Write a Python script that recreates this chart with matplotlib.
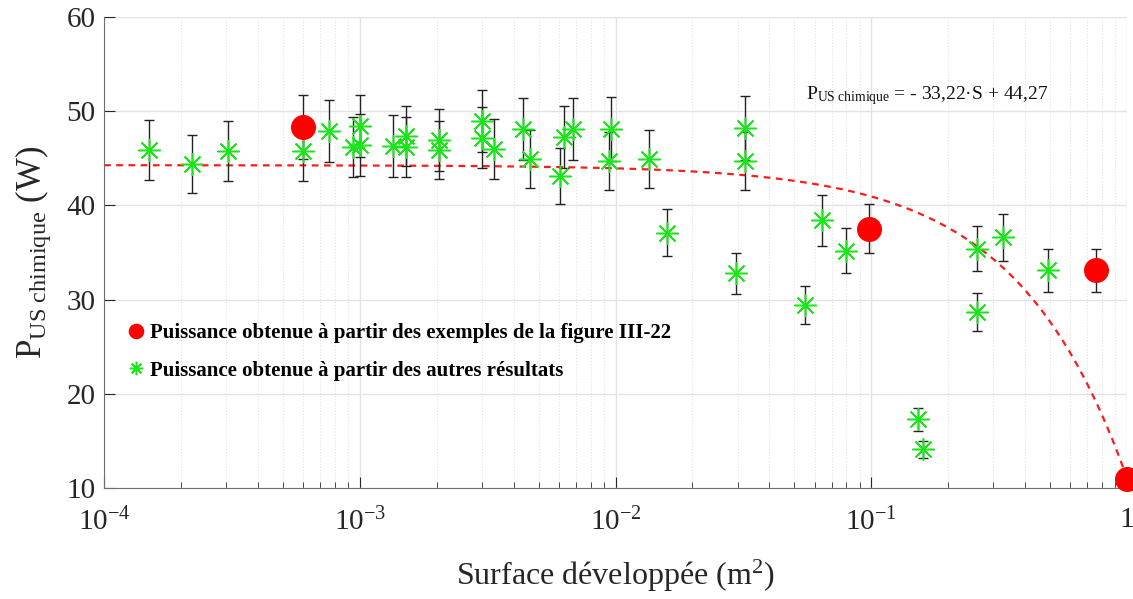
import matplotlib.pyplot as plt
import numpy as np

plt.rcParams["font.family"] = ["Liberation Serif", "DejaVu Serif"]
plt.rcParams["mathtext.fontset"] = "custom"
plt.rcParams["mathtext.rm"] = "Liberation Serif"
plt.rcParams["mathtext.it"] = "Liberation Serif:italic"
plt.rcParams["mathtext.bf"] = "Liberation Serif:bold"

# %% data
# points from the figure III-22 examples (red)
ex_surface = [6.0e-4, 9.8e-2, 0.757, 1.0]
ex_power = [48.3, 37.5, 33.1, 11.0]
ex_err = [3.4, 2.6, 2.3, 0.0]

# other results (green)
oth_surface = [1.5e-4, 2.2e-4, 3.05e-4, 6.0e-4, 7.6e-4, 9.4e-4, 1.0e-3, 1.0e-3,
               1.35e-3, 1.52e-3, 1.52e-3, 2.04e-3, 2.04e-3, 3.0e-3, 3.0e-3,
               3.35e-3, 4.35e-3, 4.65e-3, 6.05e-3, 6.3e-3, 6.8e-3, 9.6e-3,
               9.4e-3, 1.35e-2, 1.59e-2, 2.96e-2, 3.2e-2, 3.2e-2, 5.5e-2,
               6.4e-2, 8.0e-2, 0.152, 0.159, 0.26, 0.26, 0.327, 0.49]
oth_power = [45.9, 44.4, 45.8, 45.8, 47.9, 46.2, 48.4, 46.4,
             46.3, 47.4, 46.2, 46.9, 45.9, 49.0, 47.2,
             46.0, 48.1, 44.9, 43.1, 47.3, 48.1, 48.1,
             44.7, 44.9, 37.1, 32.8, 48.2, 44.7, 29.4,
             38.4, 35.2, 17.3, 14.1, 35.4, 28.7, 36.6, 33.1]
oth_err = [3.2, 3.1, 3.2, 3.2, 3.3, 3.2, 3.3, 3.3,
           3.3, 3.2, 3.2, 3.3, 3.1, 3.3, 3.2,
           3.2, 3.3, 3.1, 3.0, 3.3, 3.3, 3.4,
           3.1, 3.1, 2.5, 2.2, 3.4, 3.1, 2.0,
           2.7, 2.4, 1.2, 0.9, 2.4, 2.0, 2.5, 2.3]

# linear fit given on the chart: P = -33.22*S + 44.27
fit_slope = -33.22
fit_intercept = 44.27

x_ticks = [1e-4, 1e-3, 1e-2, 1e-1, 1]
x_ticklabels = ["$10^{-4}$", "$10^{-3}$", "$10^{-2}$", "$10^{-1}$", "1"]
y_ticks = [10, 20, 30, 40, 50, 60]

# %% figure
fig = plt.figure(figsize=(11.33, 5.99), dpi=100)
ax = fig.add_axes([0.0918, 0.1853, 0.9029, 0.7863])

s = np.logspace(-4, 0, 400)
ax.plot(s, fit_slope * s + fit_intercept, "--", color="#ff1a1a", lw=1.6,
        dashes=(3, 2.5), zorder=2)

ax.errorbar(oth_surface, oth_power, yerr=oth_err, fmt="none", ecolor="#222222",
            elinewidth=1.0, capsize=3.5, capthick=1.0, zorder=3)
ax.errorbar(ex_surface[:3], ex_power[:3], yerr=ex_err[:3], fmt="none",
            ecolor="#222222", elinewidth=1.0, capsize=3.5, capthick=1.0, zorder=3)

ax.plot(oth_surface, oth_power, ls="none", marker=(8, 2, 0), ms=16, mew=1.1,
        color="#19e619", zorder=4,
        label="Puissance obtenue à partir des autres résultats")
ax.plot(ex_surface, ex_power, ls="none", marker="o", ms=17, color="#ff0000",
        mec="#ff0000", zorder=5, clip_on=False,
        label="Puissance obtenue à partir des exemples de la figure III-22")

ax.set_xscale("log")
ax.set_xlim(1e-4, 1)
ax.set_ylim(10, 60)
ax.set_xticks(x_ticks)
ax.set_xticklabels(x_ticklabels)
ax.set_yticks(y_ticks)

ax.grid(True, which="major", color="#e3e3e3", lw=1.0)
ax.grid(True, which="minor", axis="x", color="#e3e3e3", lw=0.8, ls=":")
ax.set_axisbelow(True)

for side in ["top", "right"]:
    ax.spines[side].set_visible(False)
for side in ["left", "bottom"]:
    ax.spines[side].set_color("#707070")

ax.tick_params(which="both", direction="in", colors="#262626", labelsize=21)
ax.tick_params(axis="x", pad=14)
ax.tick_params(axis="y", pad=6)
ax.tick_params(which="major", length=8)
ax.tick_params(which="minor", length=4)

ax.set_xlabel("Surface développée (m$^2$)", fontsize=23, color="#262626",
              labelpad=16)
ax.set_ylabel("P$_{\\mathrm{US\\ chimique}}$ (W)", fontsize=25,
              color="#262626", labelpad=10)

ax.text(0.686, 0.825, "P$_{\\mathrm{US\\ chimique}}$ = - 33,22·S + 44,27",
        transform=ax.transAxes, fontsize=14, color="#111111")

handles, labels = ax.get_legend_handles_labels()
leg = ax.legend(handles[::-1], labels[::-1], loc="upper left",
                bbox_to_anchor=(0.0, 0.39), frameon=False,
                prop={"weight": "bold", "size": 15}, handletextpad=0.0,
                handlelength=1.3, labelspacing=0.85, markerscale=0.6)

fig.savefig("out.png", dpi=100)
